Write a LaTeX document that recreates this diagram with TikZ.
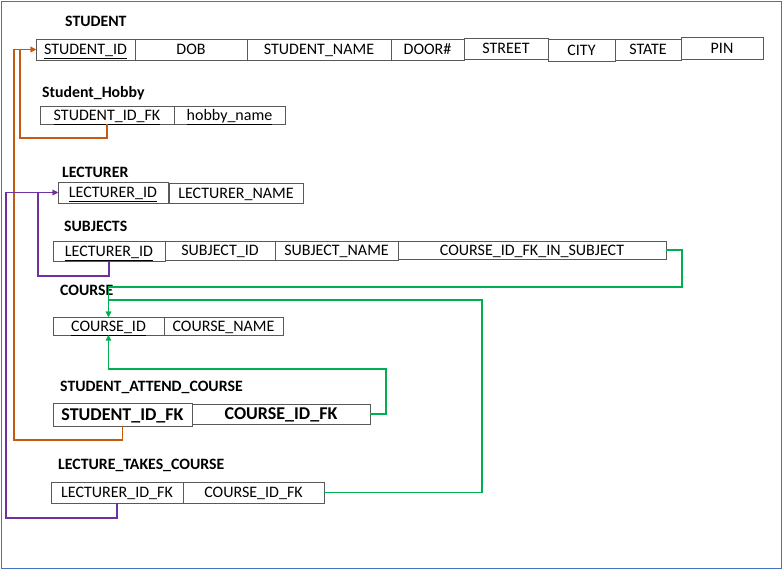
\documentclass[tikz,border=0pt]{standalone}
\usepackage{fontspec}
\setmainfont{Carlito}
\usetikzlibrary{arrows.meta}
\definecolor{frameblue}{HTML}{4472C4}
\definecolor{fkorange}{HTML}{C55A11}
\definecolor{fkpurple}{HTML}{7030A0}
\definecolor{fkgreen}{HTML}{00B050}
\tikzset{
  cellbox/.style={draw=black!65, line width=0.9pt, inner sep=0pt, outer sep=0pt,
    anchor=north west, align=center, text height=10.3pt, text depth=0pt,
    font=\fontsize{16}{19}\selectfont},
  bigcell/.style={cellbox, text height=11.6pt, font=\fontsize{18}{21}\selectfont\bfseries},
  tabtitle/.style={anchor=base west, inner sep=0pt, font=\fontsize{15.8}{18}\selectfont\bfseries},
  link/.style={line width=1.3pt, -{Triangle[length=5.5pt,width=5.5pt]}},
}
\newcommand\dbcell[7][cellbox]{%
  \node[#1, minimum width={(#5)-(#3)}, minimum height={(#6)-(#4)}] (#2) at (#3,#4) {#7};}
\begin{document}
\begin{tikzpicture}[x=1pt,y=-1pt]
\useasboundingbox (0,0) rectangle (784,570);
\draw[frameblue, line width=1pt] (1,1) rectangle (781,568);

% STUDENT
\node[tabtitle] (tStudent) at (65,26) {STUDENT};
\dbcell{sid}{36}{39}{135}{60}{\underline{STUDENT\_ID}}
\dbcell{sdob}{135}{39}{247}{60}{DOB}
\dbcell{sname}{247}{39}{391}{60}{STUDENT\_NAME}
\dbcell{sdoor}{391}{39}{464}{60}{DOOR\#}
\dbcell{sstreet}{464}{38}{548}{59.5}{STREET}
\dbcell{scity}{548}{39}{615}{61}{CITY}
\dbcell{sstate}{615}{39}{681}{60.5}{STATE}
\dbcell{spin}{681}{37}{763}{59}{PIN}

% Student_Hobby
\node[tabtitle] (tHobby) at (42,97) {Student\_Hobby};
\dbcell{hfk}{40}{106}{174}{124}{\underline{STUDENT\_ID\_FK}}
\dbcell{hname}{174}{106}{285}{124}{\underline{hobby\_name}}

% LECTURER
\node[tabtitle] (tLect) at (62,177) {LECTURER};
\dbcell{lid}{58}{182}{168}{203}{\underline{LECTURER\_ID}}
\dbcell{lname}{169}{183}{303}{203}{LECTURER\_NAME}

% SUBJECTS
\node[tabtitle] (tSubj) at (64,231.5) {SUBJECTS};
\dbcell{sublid}{53}{241}{165}{261}{\underline{LECTURER\_ID}}
\dbcell{subid}{165}{241}{275}{260}{SUBJECT\_ID}
\dbcell{subname}{275}{241}{398}{260}{SUBJECT\_NAME}
\dbcell{subcfk}{398}{241}{666}{259}{COURSE\_ID\_FK\_IN\_SUBJECT}

% COURSE
\node[tabtitle] (tCourse) at (60,295.5) {COURSE};
\dbcell{cid}{53}{317}{164}{335}{\underline{COURSE\_ID}}
\dbcell{cname}{164}{317}{283}{335}{COURSE\_NAME}

% STUDENT_ATTEND_COURSE
\node[tabtitle] (tSA) at (60,391.5) {STUDENT\_ATTEND\_COURSE};
\dbcell[bigcell]{sasid}{53}{403}{192}{426}{STUDENT\_ID\_FK}
\dbcell[bigcell]{sacid}{192}{404}{370}{424}{COURSE\_ID\_FK}

% LECTURE_TAKES_COURSE
\node[tabtitle] (tLT) at (58,469) {LECTURE\_TAKES\_COURSE};
\dbcell{ltlid}{51}{482}{183}{503}{LECTURER\_ID\_FK}
\dbcell{ltcid}{183}{482}{324}{503}{COURSE\_ID\_FK}

% orange links to STUDENT_ID
\draw[link, fkorange] (hfk.south) |- (20,138) |- (sid.west);
\draw[link, fkorange] (sasid.south) |- (14,440) |- (sid.west);

% purple links to LECTURER_ID
\draw[link, fkpurple] (sublid.south) |- (38,276) |- (lid.west);
\draw[link, fkpurple] (ltlid.south) |- (6,518) |- (lid.west);

% green links to COURSE_ID
\draw[link, fkgreen] (subcfk.east) -| (682,287) -| (cid.north);
\draw[link, fkgreen] (ltcid.east) -| (482,300) -| (cid.north);
\draw[link, fkgreen] (sacid.east) -| (386,369) -| (cid.south);
\end{tikzpicture}
\end{document}
